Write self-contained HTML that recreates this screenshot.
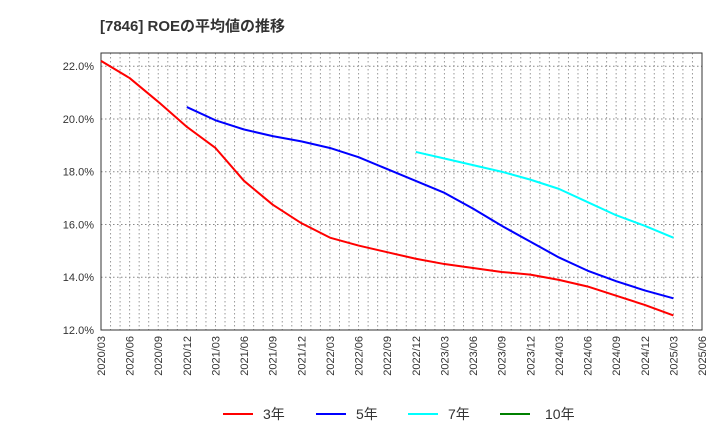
<!DOCTYPE html>
<html><head><meta charset="utf-8"><style>
body{margin:0;background:#fff;font-family:"Liberation Sans","Noto Sans CJK JP",sans-serif}
</style></head><body>
<svg width="720" height="440" xmlns="http://www.w3.org/2000/svg" font-family="Liberation Sans, Noto Sans CJK JP, sans-serif">
<text x="100" y="31" font-size="15" font-weight="bold" fill="#333">[7846]  ROEの平均値の推移</text>
<g id="grid"></g>
<rect x="101" y="53" width="601" height="277" fill="none" stroke="#333"/>
<g id="series"></g>
<g id="axes" font-size="11" fill="#333"></g>
<g font-size="14" fill="#333">
<g><line x1="223" y1="414" x2="253" y2="414" stroke="#ff0000" stroke-width="2"/><text x="263" y="419">3年</text></g>
<g><line x1="316" y1="414" x2="346" y2="414" stroke="#0000ff" stroke-width="2"/><text x="356" y="419">5年</text></g>
<g><line x1="408" y1="414" x2="438" y2="414" stroke="#00ffff" stroke-width="2"/><text x="448" y="419">7年</text></g>
<g><line x1="500" y1="414" x2="530" y2="414" stroke="#008000" stroke-width="2"/><text x="545" y="419">10年</text></g>
</g>
</svg>
<script>
const xLabels=["2020/03","2020/06","2020/09","2020/12","2021/03","2021/06","2021/09","2021/12","2022/03","2022/06","2022/09","2022/12","2023/03","2023/06","2023/09","2023/12","2024/03","2024/06","2024/09","2024/12","2025/03","2025/06"];
const yTicks=[12,14,16,18,20,22];
const s3=[22.2,21.55,20.65,19.7,18.9,17.65,16.75,16.05,15.5,15.2,14.95,14.7,14.5,14.35,14.2,14.1,13.9,13.65,13.3,12.95,12.55];
const s3Start=0;
const s5=[20.45,19.95,19.6,19.35,19.15,18.9,18.55,18.1,17.65,17.2,16.6,15.95,15.35,14.75,14.25,13.85,13.5,13.2];
const s5Start=3;
const s7=[18.75,18.5,18.25,18.0,17.7,17.35,16.85,16.35,15.95,15.5];
const s7Start=11;
const X0=101,X1=702,Y0=330,Y1=53,YMIN=12,YMAX=22.5;
const xs=i=>X0+(X1-X0)*i/(xLabels.length-1);
const ys=v=>Y0-(v-YMIN)/(YMAX-YMIN)*(Y0-Y1);
const NS="http://www.w3.org/2000/svg";
const grid=document.getElementById('grid'),axes=document.getElementById('axes'),ser=document.getElementById('series');
for(let m=1;m<(xLabels.length-1)*3;m++){
 const x=X0+(X1-X0)*m/((xLabels.length-1)*3);
 const l=document.createElementNS(NS,'line');
 
 
 l.setAttribute('x1',x);l.setAttribute('x2',x);l.setAttribute('y1',Y1);l.setAttribute('y2',Y0);
 l.setAttribute('stroke','#999');l.setAttribute('stroke-dasharray','1.5,2.5');grid.appendChild(l);
}
yTicks.forEach(v=>{
 const y=ys(v);
 const l=document.createElementNS(NS,'line');
 
 
 l.setAttribute('x1',X0);l.setAttribute('x2',X1);l.setAttribute('y1',y);l.setAttribute('y2',y);
 l.setAttribute('stroke','#888');l.setAttribute('stroke-dasharray','1.5,2.5');grid.appendChild(l);
 const t=document.createElementNS(NS,'text');
 
 
 t.setAttribute('x',X0-7);t.setAttribute('y',y+4);t.setAttribute('text-anchor','end');
 t.textContent=v.toFixed(1)+'%';axes.appendChild(t);
});
xLabels.forEach((lab,i)=>{
 const x=xs(i);
 const t=document.createElementNS(NS,'text');
 
 
 t.setAttribute('text-anchor','end');
 t.setAttribute('transform','translate('+(x+4)+','+(Y0+6)+') rotate(-90)');
 t.textContent=lab;axes.appendChild(t);
});
function draw(data,start,color,name){
 const p=document.createElementNS(NS,'polyline');
 
 
 p.setAttribute('points',data.map((v,i)=>xs(start+i)+','+ys(v)).join(' '));
 p.setAttribute('fill','none');p.setAttribute('stroke',color);p.setAttribute('stroke-width','2');
 p.setAttribute('stroke-linejoin','round');
 ser.appendChild(p);
}
draw(s3,s3Start,'#ff0000','line-3y');
draw(s5,s5Start,'#0000ff','line-5y');
draw(s7,s7Start,'#00ffff','line-7y');
</script>
</body></html>
